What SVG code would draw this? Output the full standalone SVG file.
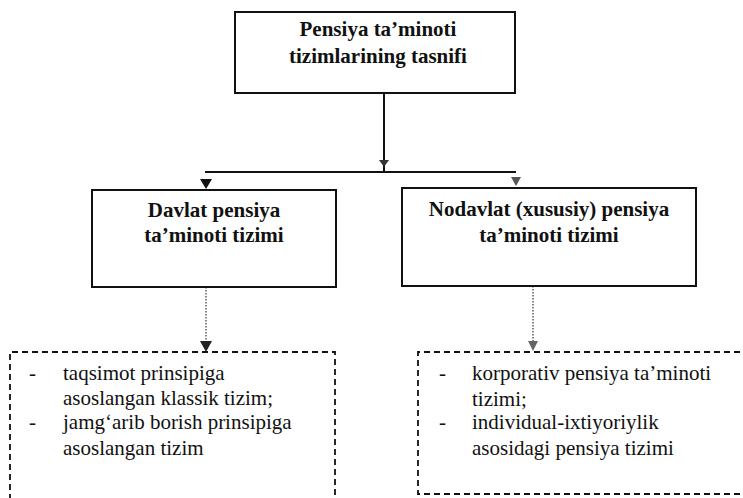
<svg xmlns="http://www.w3.org/2000/svg" width="743" height="498" viewBox="0 0 743 498">
<style>
.box{fill:#fff;stroke:#111;stroke-width:2}
.dbox{fill:none;stroke:#111;stroke-width:1.8;stroke-dasharray:6 4}
.t{font-family:"Liberation Serif","Times New Roman",serif;font-size:21px;fill:#111}
.b{font-weight:bold;text-anchor:middle}
.line{fill:none;stroke:#111;stroke-width:2}
.dot{fill:none;stroke:#333;stroke-width:1.2;stroke-dasharray:1.5 1.5}
</style>
<rect width="743" height="498" fill="#fff"/>
<g id="connectors">
<path class="line" d="M384 93 V172 M205 172 H516"/>
<polygon points="379,160 389,160 384,167" fill="#333"/>
<polygon points="200,179 212,179 206,189" fill="#111"/>
<polygon points="511,177 521,177 516,186" fill="#555"/>
<path class="dot" d="M206 287 V342"/>
<polygon points="200,341 212,341 206,352" fill="#222"/>
<path class="dot" d="M533 286 V342"/>
<polygon points="528,341 538,341 533,351" fill="#666"/>
</g>
<g id="root">
<rect class="box" x="235" y="12" width="280" height="81"/>
<text class="t b" x="378" y="36">Pensiya ta’minoti</text>
<text class="t b" x="378" y="63">tizimlarining tasnifi</text>
</g>
<g id="state">
<rect class="box" x="92" y="190" width="244" height="97"/>
<text class="t b" x="214" y="217">Davlat pensiya</text>
<text class="t b" x="214" y="242">ta’minoti tizimi</text>
</g>
<g id="private">
<rect class="box" x="402" y="188" width="294" height="98"/>
<text class="t b" x="549" y="216">Nodavlat (xususiy) pensiya</text>
<text class="t b" x="549" y="242">ta’minoti tizimi</text>
</g>
<g id="state-list">
<path class="dbox" d="M10 510 V352 H335 V510"/>
<text class="t" x="29" y="380">-</text>
<text class="t" x="63" y="380">taqsimot prinsipiga</text>
<text class="t" x="63" y="405">asoslangan klassik tizim;</text>
<text class="t" x="29" y="429">-</text>
<text class="t" x="63" y="429">jamg‘arib borish prinsipiga</text>
<text class="t" x="63" y="455">asoslangan tizim</text>
</g>
<g id="private-list">
<path class="dbox" d="M760 352 H418 V494 H760"/>
<text class="t" x="439" y="380">-</text>
<text class="t" x="472" y="380">korporativ pensiya ta’minoti</text>
<text class="t" x="472" y="406">tizimi;</text>
<text class="t" x="439" y="429">-</text>
<text class="t" x="472" y="429">individual-ixtiyoriylik</text>
<text class="t" x="472" y="455">asosidagi pensiya tizimi</text>
</g>
</svg>
